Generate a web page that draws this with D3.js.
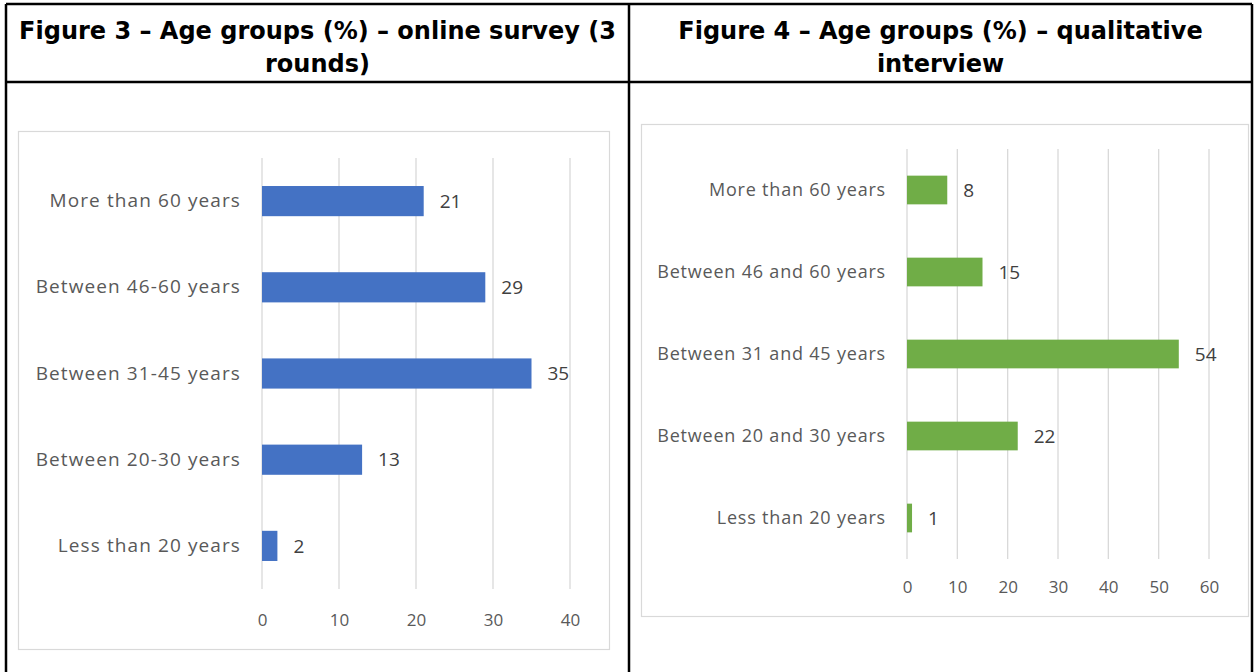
<!DOCTYPE html>
<html>
<head>
<meta charset="utf-8">
<script src="https://cdn.jsdelivr.net/npm/d3@7"></script>
<style>
  html, body { margin: 0; padding: 0; background: #fff; }
  svg { display: block; }
</style>
</head>
<body>
<svg id="page" width="1259" height="672"></svg>
<script>
// ---- data ----
const fig3Title = ["Figure 3 \u2013 Age groups (%) \u2013 online survey (3", "rounds)"];
const fig4Title = ["Figure 4 \u2013 Age groups (%) \u2013 qualitative", "interview"];

const fig3Categories = ["More than 60 years", "Between 46-60 years", "Between 31-45 years", "Between 20-30 years", "Less than 20 years"];
const fig3Values = [21, 29, 35, 13, 2];
const fig3Ticks = [0, 10, 20, 30, 40];

const fig4Categories = ["More than 60 years", "Between 46 and 60 years", "Between 31 and 45 years", "Between 20 and 30 years", "Less than 20 years"];
const fig4Values = [8, 15, 54, 22, 1];
const fig4Ticks = [0, 10, 20, 30, 40, 50, 60];

// ---- layout ----
const svg = d3.select("#page");
const table = { left: 6, top: 4, right: 1252, headerBottom: 82, divider: 629 };
const borderW = 2.5;
const chartFont = "'Open Sans', 'Noto Sans', sans-serif";

// table header titles
function drawTitle(lines, cx) {
  const t = svg.append("g");
  lines.forEach((line, i) => {
    t.append("text")
      .attr("x", cx)
      .attr("y", 39 + i * 33)
      .attr("text-anchor", "middle")
      .attr("font-family", "'DejaVu Sans', Verdana, sans-serif")
      .attr("font-weight", "bold")
      .attr("font-size", 24)
      .attr("fill", "#000")
      .text(line);
  });
}
drawTitle(fig3Title, (table.left + table.divider) / 2);
drawTitle(fig4Title, (table.divider + table.right) / 2);

// table rules
const rules = svg.append("g").attr("stroke", "#000").attr("stroke-width", borderW);
rules.append("line").attr("x1", table.left).attr("x2", table.right).attr("y1", table.top).attr("y2", table.top);
rules.append("line").attr("x1", table.left).attr("x2", table.right).attr("y1", table.headerBottom).attr("y2", table.headerBottom);
rules.append("line").attr("x1", table.left).attr("x2", table.left).attr("y1", table.top).attr("y2", 680);
rules.append("line").attr("x1", table.right).attr("x2", table.right).attr("y1", table.top).attr("y2", 680);
rules.append("line").attr("x1", table.divider).attr("x2", table.divider).attr("y1", table.top).attr("y2", 680);

// horizontal bar chart inside a light frame
function barChart(opts) {
  const g = svg.append("g");
  g.append("rect")
    .attr("x", opts.box[0] + 0.5).attr("y", opts.box[1] + 0.5)
    .attr("width", opts.box[2]).attr("height", opts.box[3])
    .attr("fill", "#fff").attr("stroke", "#d9d9d9").attr("stroke-width", 1.2);

  const x = d3.scaleLinear()
    .domain([0, d3.max(opts.ticks)])
    .range([opts.plot.x0, opts.plot.x1]);
  const y = d3.scaleBand()
    .domain(opts.categories)
    .range([opts.plot.y0, opts.plot.y1])
    .paddingInner(0.65)
    .paddingOuter(0.325);

  // vertical gridlines
  g.append("g").selectAll("line").data(opts.ticks).join("line")
    .attr("x1", d => x(d)).attr("x2", d => x(d))
    .attr("y1", opts.plot.y0).attr("y2", opts.plot.y1)
    .attr("stroke", "#d9d9d9").attr("stroke-width", 1.3);

  // x axis labels (no axis line, only values)
  const axis = d3.axisBottom(x).tickValues(opts.ticks).tickSize(0).tickPadding(0);
  const ag = g.append("g")
    .attr("transform", `translate(0,${opts.tickY})`)
    .call(axis);
  ag.select(".domain").remove();
  ag.selectAll("text")
    .attr("dy", "0.35em")
    .attr("font-family", chartFont)
    .attr("font-size", 17)
    .attr("fill", "#595959");

  // category labels
  const cg = g.append("g")
    .attr("transform", `translate(${opts.plot.x0},0)`)
    .call(d3.axisLeft(y).tickSize(0).tickPadding(21));
  cg.select(".domain").remove();
  cg.selectAll("text")
    .attr("font-family", chartFont)
    .attr("font-size", opts.labelSize)
    .attr("letter-spacing", opts.labelSpacing)
    .attr("fill", "#595959");

  const data = opts.categories.map((c, i) => ({ c, v: opts.values[i] }));

  g.append("g").selectAll("rect").data(data).join("rect")
    .attr("x", x(0))
    .attr("y", d => y(d.c))
    .attr("width", d => x(d.v) - x(0))
    .attr("height", y.bandwidth())
    .attr("fill", opts.color);

  g.append("g").selectAll("text").data(data).join("text")
    .attr("x", d => x(d.v) + 16)
    .attr("y", d => y(d.c) + y.bandwidth() / 2)
    .attr("dy", "0.35em")
    .attr("font-family", chartFont)
    .attr("font-size", 19)
    .attr("fill", "#404040")
    .text(d => d.v);
}

barChart({
  box: [18, 131, 591, 518],
  plot: { x0: 262, x1: 570, y0: 158, y1: 589 },
  tickY: 620,
  categories: fig3Categories,
  values: fig3Values,
  ticks: fig3Ticks,
  labelSize: 19,
  labelSpacing: 1.1,
  color: "#4472c4"
});

barChart({
  box: [641, 124, 607, 492],
  plot: { x0: 907, x1: 1209, y0: 149, y1: 559 },
  tickY: 587,
  categories: fig4Categories,
  values: fig4Values,
  ticks: fig4Ticks,
  labelSize: 18,
  labelSpacing: 0.8,
  color: "#70ad47"
});
</script>
</body>
</html>
